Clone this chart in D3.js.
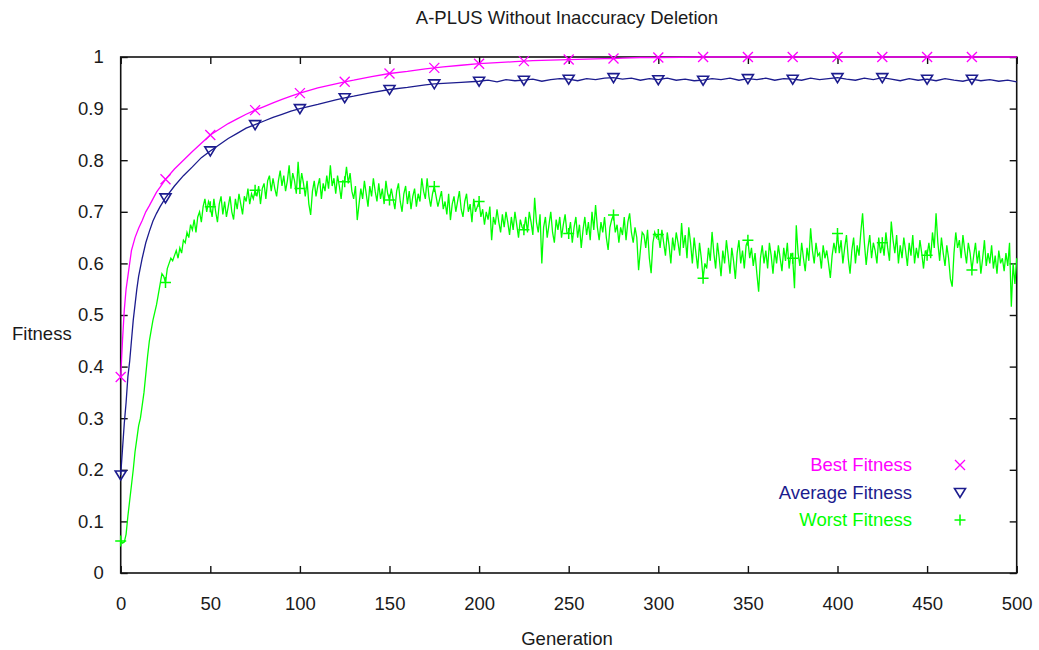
<!DOCTYPE html>
<html>
<head>
<meta charset="utf-8">
<script src="https://cdn.jsdelivr.net/npm/d3@7"></script>
<style>
  html, body { margin: 0; padding: 0; background: #fff; }
  svg { display: block; }
  text { font-family: "Liberation Sans", Arial, Helvetica, sans-serif; fill: #1a1a1a; }
</style>
</head>
<body>
<svg id="chart" width="1039" height="650"></svg>
<script>
// ---- data ----
const titleText = "A-PLUS Without Inaccuracy Deletion";
const xLabel = "Generation";
const yLabel = "Fitness";

const xTicks = [0, 50, 100, 150, 200, 250, 300, 350, 400, 450, 500];
const xTickLabels = ["0", "50", "100", "150", "200", "250", "300", "350", "400", "450", "500"];
const yTicks = [0, 0.1, 0.2, 0.3, 0.4, 0.5, 0.6, 0.7, 0.8, 0.9, 1];
const yTickLabels = ["0", "0.1", "0.2", "0.3", "0.4", "0.5", "0.6", "0.7", "0.8", "0.9", "1"];

const seriesNames = ["Best Fitness", "Average Fitness", "Worst Fitness"];

// generations that carry a point symbol
const markerGens = [0, 25, 50, 75, 100, 125, 150, 175, 200, 225, 250, 275, 300, 325, 350, 375, 400, 425, 450, 475];

// best fitness per sampled generation
const bestGen = [0, 1, 2, 3, 4, 5, 6, 8, 10, 12, 14, 16, 18, 20, 22, 25, 30, 35, 40, 45,
  50, 55, 60, 65, 70, 75, 80, 85, 90, 95, 100, 110, 120, 125, 130, 140, 150, 160, 170, 175,
  180, 190, 200, 210, 220, 225, 230, 240, 250, 260, 270, 275, 280, 290, 300, 325, 350, 375,
  400, 425, 450, 475, 500];
const bestVal = [0.380, 0.450, 0.510, 0.550, 0.575, 0.600, 0.625, 0.650, 0.668, 0.683, 0.700, 0.712, 0.725, 0.738, 0.748, 0.763, 0.783, 0.800, 0.817, 0.833,
  0.849, 0.860, 0.871, 0.880, 0.889, 0.897, 0.904, 0.911, 0.918, 0.924, 0.930, 0.940, 0.948, 0.952, 0.955, 0.962, 0.968, 0.972, 0.977, 0.979,
  0.981, 0.984, 0.987, 0.989, 0.991, 0.992, 0.993, 0.994, 0.995, 0.996, 0.997, 0.997, 0.998, 0.999, 0.999, 1.000, 1.000, 1.000,
  1.000, 1.000, 1.000, 1.000, 1.000];

// average fitness per sampled generation
const avgGen = [0, 1, 2, 3, 4, 5, 6, 7, 8, 9, 10, 12, 14, 16, 18, 20, 22, 25, 30, 35, 40, 45,
  50, 55, 60, 65, 70, 75, 80, 85, 90, 95, 100, 110, 120, 125, 130, 140, 150, 160, 170, 175, 180, 190,
  200, 205, 210, 215, 220, 225, 230, 235, 240, 245, 250, 255, 260, 265, 270, 275, 280, 285, 290, 295,
  300, 305, 310, 315, 320, 325, 330, 335, 340, 345, 350, 355, 360, 365, 370, 375, 380, 385, 390, 395,
  400, 405, 410, 415, 420, 425, 430, 435, 440, 445, 450, 455, 460, 465, 470, 475, 480, 485, 490, 495, 500];
const avgVal = [0.190, 0.240, 0.290, 0.330, 0.380, 0.410, 0.450, 0.490, 0.520, 0.550, 0.575, 0.610, 0.640, 0.662, 0.682, 0.697, 0.710, 0.727, 0.750, 0.770, 0.787, 0.805,
  0.818, 0.830, 0.842, 0.852, 0.862, 0.869, 0.876, 0.883, 0.889, 0.895, 0.900, 0.908, 0.917, 0.921, 0.924, 0.931, 0.937, 0.941, 0.946, 0.948, 0.949, 0.951,
  0.953, 0.955, 0.952, 0.956, 0.954, 0.955, 0.957, 0.953, 0.956, 0.958, 0.957, 0.954, 0.958, 0.956, 0.959, 0.960, 0.957, 0.959, 0.955, 0.958,
  0.956, 0.959, 0.955, 0.957, 0.954, 0.955, 0.958, 0.956, 0.959, 0.955, 0.958, 0.956, 0.959, 0.955, 0.958, 0.957, 0.955, 0.959, 0.956, 0.958,
  0.960, 0.957, 0.955, 0.959, 0.956, 0.960, 0.957, 0.954, 0.958, 0.955, 0.957, 0.954, 0.958, 0.955, 0.953, 0.957, 0.954, 0.956, 0.953, 0.955, 0.952];

// worst fitness, one value per generation 0..500
const worstVal = [
  0.062, 0.058, 0.060, 0.075, 0.110, 0.140, 0.170, 0.200, 0.235, 0.260, 0.285, 0.300, 0.325, 0.350, 0.385, 0.420, 0.450, 0.470, 0.490, 0.505, 0.520, 0.540, 0.560, 0.580, 0.575,
  0.563, 0.590, 0.600, 0.610, 0.605, 0.615, 0.625, 0.610, 0.630, 0.620, 0.645, 0.640, 0.660, 0.650, 0.675, 0.665, 0.685, 0.660, 0.690, 0.700, 0.680, 0.710, 0.725, 0.700, 0.720,
  0.710, 0.690, 0.725, 0.700, 0.680, 0.715, 0.730, 0.695, 0.720, 0.690, 0.710, 0.730, 0.700, 0.685, 0.725, 0.705, 0.735, 0.715, 0.695, 0.730, 0.720, 0.745, 0.715, 0.735, 0.725,
  0.742, 0.730, 0.750, 0.715, 0.745, 0.755, 0.725, 0.760, 0.770, 0.740, 0.765, 0.745, 0.730, 0.760, 0.780, 0.750, 0.770, 0.740, 0.760, 0.790, 0.745, 0.775, 0.760, 0.735, 0.797,
  0.745, 0.775, 0.755, 0.730, 0.760, 0.715, 0.694, 0.740, 0.760, 0.730, 0.750, 0.765, 0.725, 0.755, 0.740, 0.770, 0.745, 0.790, 0.750, 0.765, 0.735, 0.770, 0.750, 0.725, 0.760,
  0.758, 0.787, 0.755, 0.775, 0.740, 0.725, 0.750, 0.684, 0.715, 0.745, 0.725, 0.760, 0.735, 0.710, 0.750, 0.730, 0.765, 0.740, 0.720, 0.755, 0.725, 0.745, 0.715, 0.760, 0.735,
  0.723, 0.745, 0.725, 0.705, 0.740, 0.755, 0.720, 0.700, 0.735, 0.750, 0.715, 0.740, 0.705, 0.730, 0.745, 0.710, 0.735, 0.720, 0.765, 0.740, 0.725, 0.765, 0.730, 0.710, 0.735,
  0.749, 0.730, 0.710, 0.725, 0.740, 0.705, 0.720, 0.695, 0.735, 0.684, 0.715, 0.730, 0.700, 0.720, 0.740, 0.705, 0.690, 0.720, 0.735, 0.700, 0.715, 0.680, 0.725, 0.700, 0.710,
  0.720, 0.690, 0.705, 0.675, 0.700, 0.685, 0.710, 0.645, 0.690, 0.675, 0.705, 0.680, 0.660, 0.695, 0.670, 0.700, 0.680, 0.655, 0.690, 0.665, 0.700, 0.675, 0.650, 0.685, 0.670,
  0.665, 0.690, 0.660, 0.700, 0.680, 0.655, 0.727, 0.680, 0.660, 0.695, 0.600, 0.670, 0.690, 0.650, 0.675, 0.700, 0.660, 0.640, 0.685, 0.665, 0.690, 0.650, 0.675, 0.695, 0.660,
  0.658, 0.680, 0.640, 0.670, 0.690, 0.650, 0.675, 0.630, 0.665, 0.690, 0.655, 0.680, 0.645, 0.700, 0.665, 0.713, 0.670, 0.645, 0.680, 0.660, 0.690, 0.650, 0.626, 0.670, 0.685,
  0.694, 0.660, 0.675, 0.640, 0.670, 0.655, 0.690, 0.645, 0.680, 0.697, 0.660, 0.640, 0.670, 0.650, 0.587, 0.625, 0.660, 0.655, 0.630, 0.665, 0.610, 0.581, 0.640, 0.660, 0.650,
  0.656, 0.630, 0.665, 0.640, 0.615, 0.660, 0.635, 0.600, 0.650, 0.625, 0.660, 0.640, 0.615, 0.678, 0.630, 0.655, 0.610, 0.670, 0.640, 0.600, 0.650, 0.620, 0.590, 0.640, 0.610,
  0.571, 0.600, 0.590, 0.630, 0.605, 0.661, 0.620, 0.590, 0.640, 0.610, 0.575, 0.625, 0.600, 0.645, 0.615, 0.580, 0.630, 0.605, 0.570, 0.620, 0.645, 0.600, 0.625, 0.590, 0.635,
  0.645, 0.610, 0.630, 0.595, 0.620, 0.580, 0.545, 0.610, 0.635, 0.600, 0.625, 0.590, 0.640, 0.615, 0.580, 0.625, 0.600, 0.635, 0.610, 0.585, 0.630, 0.605, 0.640, 0.590, 0.620,
  0.610, 0.552, 0.674, 0.620, 0.595, 0.640, 0.610, 0.585, 0.630, 0.605, 0.668, 0.625, 0.600, 0.640, 0.615, 0.620, 0.590, 0.635, 0.610, 0.625, 0.600, 0.572, 0.615, 0.640, 0.620,
  0.658, 0.620, 0.645, 0.600, 0.630, 0.655, 0.610, 0.580, 0.625, 0.650, 0.600, 0.635, 0.615, 0.660, 0.697, 0.640, 0.597, 0.630, 0.655, 0.610, 0.640, 0.625, 0.600, 0.650, 0.620,
  0.640, 0.615, 0.660, 0.630, 0.605, 0.681, 0.645, 0.620, 0.655, 0.600, 0.635, 0.610, 0.650, 0.625, 0.595, 0.640, 0.615, 0.655, 0.600, 0.630, 0.610, 0.645, 0.620, 0.590, 0.625,
  0.616, 0.640, 0.610, 0.660, 0.630, 0.697, 0.640, 0.605, 0.650, 0.620, 0.595, 0.635, 0.610, 0.570, 0.555, 0.620, 0.660, 0.630, 0.645, 0.610, 0.655, 0.625, 0.600, 0.640, 0.620,
  0.587, 0.615, 0.640, 0.600, 0.625, 0.580, 0.610, 0.645, 0.595, 0.620, 0.600, 0.635, 0.590, 0.615, 0.580, 0.625, 0.600, 0.610, 0.585, 0.620, 0.595, 0.640, 0.516, 0.600, 0.560,
  0.610
];

// ---- drawing ----
const colors = { best: "#ff00ff", avg: "#1c1c8e", worst: "#00ff00" };
const svg = d3.select("#chart");

const plot = { left: 120.7, right: 1016.7, top: 57, bottom: 573 };
const x = d3.scaleLinear().domain([0, 500]).range([plot.left, plot.right]);
const y = d3.scaleLinear().domain([0, 1]).range([plot.bottom, plot.top]);

const fontSize = 18.5;
const tickLen = 7;

// axes with inward ticks on all four sides
const gBottom = svg.append("g").attr("transform", `translate(0,${plot.bottom})`)
  .call(d3.axisBottom(x).tickValues(xTicks).tickSizeInner(-tickLen).tickSizeOuter(0)
    .tickPadding(24).tickFormat((d, i) => xTickLabels[i]));
const gLeft = svg.append("g").attr("transform", `translate(${plot.left},0)`)
  .call(d3.axisLeft(y).tickValues(yTicks).tickSizeInner(-tickLen).tickSizeOuter(0)
    .tickPadding(17).tickFormat((d, i) => yTickLabels[i]));
const gTop = svg.append("g").attr("transform", `translate(0,${plot.top})`)
  .call(d3.axisTop(x).tickValues(xTicks).tickSizeInner(-tickLen).tickSizeOuter(0).tickFormat(""));
const gRight = svg.append("g").attr("transform", `translate(${plot.right},0)`)
  .call(d3.axisRight(y).tickValues(yTicks).tickSizeInner(-tickLen).tickSizeOuter(0).tickFormat(""));

[gBottom, gLeft, gTop, gRight].forEach(g => {
  g.select(".domain").remove();
  g.selectAll(".tick line").attr("stroke", "#111").attr("stroke-width", 1.4);
  g.selectAll(".tick text").attr("font-size", fontSize)
    .attr("font-family", "'Liberation Sans', Arial, sans-serif").attr("fill", "#1a1a1a");
});

// plot frame
svg.append("rect")
  .attr("x", plot.left).attr("y", plot.top)
  .attr("width", plot.right - plot.left).attr("height", plot.bottom - plot.top)
  .attr("fill", "none").attr("stroke", "#111").attr("stroke-width", 1.6);

// titles
svg.append("text").attr("x", 567).attr("y", 24).attr("text-anchor", "middle")
  .attr("font-size", fontSize).text(titleText);
svg.append("text").attr("x", 567).attr("y", 645).attr("text-anchor", "middle")
  .attr("font-size", fontSize).text(xLabel);
svg.append("text").attr("x", 12).attr("y", 340).attr("text-anchor", "start")
  .attr("font-size", fontSize).text(yLabel);

// series
const bestData = bestGen.map((g, i) => [g, bestVal[i]]);
const avgData = avgGen.map((g, i) => [g, avgVal[i]]);
const worstData = worstVal.map((v, i) => [i, v]);

const line = d3.line().x(d => x(d[0])).y(d => y(d[1]));

svg.append("path").datum(worstData).attr("d", line)
  .attr("fill", "none").attr("stroke", colors.worst).attr("stroke-width", 1.3).attr("stroke-linejoin", "miter");
svg.append("path").datum(avgData).attr("d", line)
  .attr("fill", "none").attr("stroke", colors.avg).attr("stroke-width", 1.3);
svg.append("path").datum(bestData).attr("d", line)
  .attr("fill", "none").attr("stroke", colors.best).attr("stroke-width", 1.3);

// point symbols
const sym = {
  cross: (cx, cy) => `M${cx - 5},${cy - 5}L${cx + 5},${cy + 5}M${cx - 5},${cy + 5}L${cx + 5},${cy - 5}`,
  tri: (cx, cy) => `M${cx - 5.5},${cy - 4}L${cx + 5.5},${cy - 4}L${cx},${cy + 5}Z`,
  plus: (cx, cy) => `M${cx - 5.5},${cy}L${cx + 5.5},${cy}M${cx},${cy - 5.5}L${cx},${cy + 5.5}`
};
function valueAt(gens, vals, g) { return vals[gens.indexOf(g)]; }

const markerSets = [
  { pts: markerGens.map(g => [g, valueAt(bestGen, bestVal, g)]), shape: sym.cross, color: colors.best, w: 1.3 },
  { pts: markerGens.map(g => [g, valueAt(avgGen, avgVal, g)]), shape: sym.tri, color: colors.avg, w: 1.6 },
  { pts: markerGens.map(g => [g, worstVal[g]]), shape: sym.plus, color: colors.worst, w: 1.5 }
];
markerSets.forEach(ms => {
  svg.append("g").selectAll("path").data(ms.pts).join("path")
    .attr("d", d => ms.shape(x(d[0]), y(d[1])))
    .attr("fill", "none").attr("stroke", ms.color).attr("stroke-width", ms.w);
});

// legend
const legendRows = [
  { name: seriesNames[0], color: colors.best, shape: sym.cross, w: 1.3 },
  { name: seriesNames[1], color: colors.avg, shape: sym.tri, w: 1.6 },
  { name: seriesNames[2], color: colors.worst, shape: sym.plus, w: 1.5 }
];
const legendY = d3.scalePoint().domain(seriesNames).range([465, 520]);
legendRows.forEach(r => {
  svg.append("text").attr("x", 912).attr("y", legendY(r.name)).attr("dy", "0.35em")
    .attr("text-anchor", "end").attr("font-size", fontSize).style("fill", r.color).text(r.name);
  svg.append("path").attr("d", r.shape(960, legendY(r.name)))
    .attr("fill", "none").attr("stroke", r.color).attr("stroke-width", r.w);
});
</script>
</body>
</html>
